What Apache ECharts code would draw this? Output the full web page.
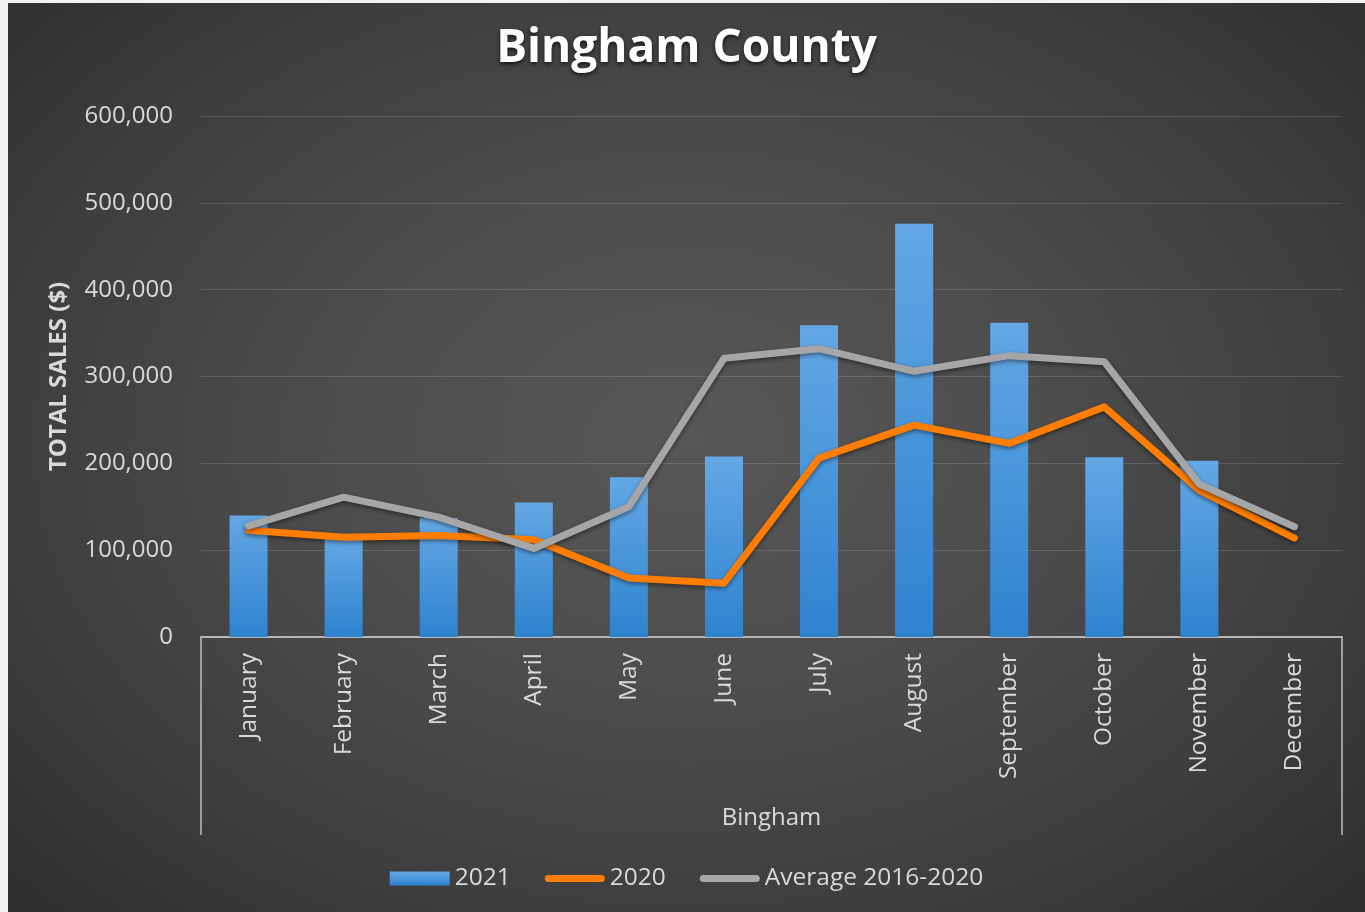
<!DOCTYPE html>
<html>
<head>
<meta charset="utf-8">
<script src="https://cdn.jsdelivr.net/npm/echarts@6/dist/echarts.min.js"></script>
<style>
  html, body { margin: 0; padding: 0; background: #f2f2f2; width: 1365px; height: 912px; overflow: hidden; }
  #chart {
    position: absolute; left: 8px; top: 3px; width: 1357px; height: 909px;
    background: radial-gradient(ellipse 75% 80% at 50% 48%, #575757 0%, #4d4d4d 35%, #3c3c3c 70%, #2a2a2a 100%);
  }
</style>
</head>
<body>
<div id="chart"></div>
<script>
const titleText = 'Bingham County';
const groupName = 'Bingham';
const months = ['January','February','March','April','May','June','July','August','September','October','November','December'];
const sales2021 = [140000, 115000, 137000, 155000, 184000, 208000, 359000, 476000, 362000, 207000, 203000, null];
const sales2020 = [123000, 115000, 117000, 112000, 68000, 62000, 206000, 244000, 223000, 265000, 169000, 114000];
const avg2016_2020 = [128000, 161000, 138000, 102000, 150000, 321000, 332000, 306000, 324000, 317000, 176000, 127000];
const seriesNames = ['2021', '2020', 'Average 2016-2020'];
const yAxisName = 'TOTAL SALES ($)';

const chart = echarts.init(document.getElementById('chart'));
const txt = '#d9d9d9';
const font = 'Open Sans';
const lineIcon = 'path://M3.5,0 H56.5 A3.5,3.5 0 0 1 56.5,7 H3.5 A3.5,3.5 0 0 1 3.5,0 Z';
chart.setOption({
  backgroundColor: 'transparent',
  title: {
    text: titleText, left: 'center', top: 18,
    textStyle: {
      color: '#ffffff', fontFamily: font, fontWeight: 'bold', fontSize: 46,
      textShadowColor: 'rgba(0,0,0,0.7)', textShadowBlur: 4, textShadowOffsetY: 2
    }
  },
  legend: {
    data: [
      { name: seriesNames[0], icon: 'rect' },
      { name: seriesNames[1], icon: lineIcon },
      { name: seriesNames[2], icon: lineIcon }
    ],
    top: 858, left: 'center',
    itemWidth: 60, itemHeight: 14, itemGap: 34,
    symbolKeepAspect: true,
    textStyle: { color: txt, fontFamily: font, fontSize: 24.5, padding: [0, 0, 0, 0] }
  },
  grid: { left: 193, right: 23, top: 113, bottom: 275 },
  xAxis: [
    {
      type: 'category', data: months,
      axisLine: { show: true, lineStyle: { color: '#bfbfbf', width: 1.5 } },
      axisTick: { show: false },
      axisLabel: { rotate: 90, color: txt, fontFamily: font, fontSize: 24.5, margin: 16 }
    },
    {
      type: 'category', data: [groupName], position: 'bottom', offset: 0,
      axisLine: { show: true, lineStyle: { color: '#bfbfbf', width: 1.5 } },
      axisTick: { show: true, length: 198, lineStyle: { color: '#bfbfbf', width: 1.5 } },
      axisLabel: { color: txt, fontFamily: font, fontSize: 24, margin: 169 }
    }
  ],
  yAxis: {
    type: 'value', min: 0, max: 600000, interval: 100000,
    name: yAxisName, nameLocation: 'middle', nameRotate: 90, nameGap: 130,
    nameTextStyle: { color: txt, fontFamily: font, fontWeight: 'bold', fontSize: 24 },
    axisLine: { show: false }, axisTick: { show: false },
    axisLabel: {
      color: txt, fontFamily: font, fontSize: 24, margin: 28,
      formatter: v => v.toLocaleString('en-US')
    },
    splitLine: { lineStyle: { color: 'rgba(255,255,255,0.13)', width: 1 } }
  },
  series: [
    {
      name: seriesNames[0], type: 'bar', data: sales2021, barWidth: '40%', xAxisIndex: 0,
      itemStyle: {
        color: new echarts.graphic.LinearGradient(0, 0, 0, 1, [
          { offset: 0, color: '#64a7e4' }, { offset: 1, color: '#2e83cf' }
        ]),
        shadowColor: 'rgba(0,0,0,0.35)', shadowBlur: 4, shadowOffsetY: 1
      }
    },
    {
      name: seriesNames[1], type: 'line', data: sales2020, symbol: 'none', xAxisIndex: 0,
      lineStyle: { color: '#ff7d00', width: 7, cap: 'round', join: 'round',
        shadowColor: 'rgba(0,0,0,0.45)', shadowBlur: 4, shadowOffsetY: 2 },
      itemStyle: { color: '#ff7d00' }
    },
    {
      name: seriesNames[2], type: 'line', data: avg2016_2020, symbol: 'none', xAxisIndex: 0,
      lineStyle: { color: '#a6a6a6', width: 7, cap: 'round', join: 'round',
        shadowColor: 'rgba(0,0,0,0.45)', shadowBlur: 4, shadowOffsetY: 2 },
      itemStyle: { color: '#a6a6a6' }
    }
  ]
});
</script>
</body>
</html>
